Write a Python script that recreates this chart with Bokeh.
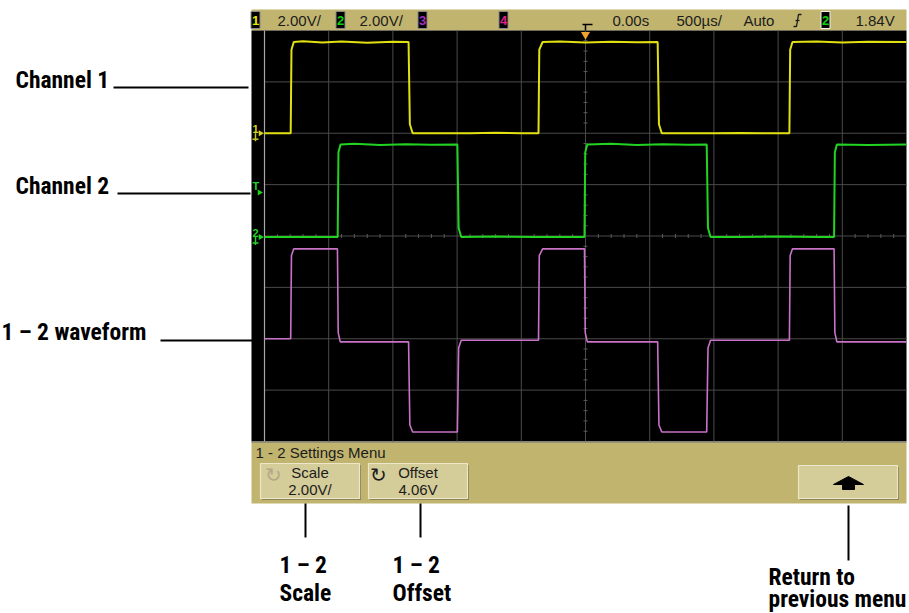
from bokeh.plotting import figure
from bokeh.models import Range1d
from bokeh.embed import file_html
from bokeh.resources import INLINE
from bokeh.core.properties import value

# ---------------- data ----------------
time_per_div_us = 500.0
volts_per_div = 2.0
math_offset_v = 4.06
trigger_level_v = 1.84

# Channel 1 (yellow) trace: time in microseconds, volts
ch1_t = [-2500, -2296, -2290, -2272, -2200, -2050, -1900, -1700, -1500, -1378, -1368, -1346,
         -1100, -900, -700, -500, -366, -360, -334, -200, 0, 200, 400, 562, 572, 594,
         800, 1000, 1200, 1400, 1588, 1594, 1612, 1800, 2000, 2200, 2500]
ch1_v = [0.0, 0.0, 3.25, 3.55, 3.58, 3.53, 3.57, 3.52, 3.56, 3.55, 0.35, 0.0,
         0.0, 0.0, 0.02, 0.0, 0.0, 3.25, 3.55, 3.57, 3.53, 3.56, 3.54, 3.55, 0.35, 0.0,
         0.0, 0.0, 0.01, 0.0, 0.0, 3.25, 3.55, 3.57, 3.53, 3.56, 3.55]

# Channel 2 (green) trace
ch2_t = [-2500, -1930, -1924, -1908, -1800, -1600, -1400, -1200, -998, -988, -968,
         -700, -400, -100, -8, -2, 14, 200, 400, 600, 800, 944, 954, 974,
         1200, 1500, 1800, 1936, 1942, 1958, 2200, 2500]
ch2_v = [0.0, 0.0, 3.3, 3.6, 3.63, 3.58, 3.61, 3.59, 3.6, 0.35, 0.0,
         0.02, 0.0, 0.0, 0.0, 3.3, 3.6, 3.63, 3.58, 3.61, 3.59, 3.6, 0.35, 0.0,
         0.0, 0.02, 0.0, 0.0, 3.3, 3.6, 3.58, 3.6]

# Math 1 - 2 (magenta) trace
math_t = [-2500, -2296, -2290, -2272, -1932, -1926, -1910, -1378, -1368, -1346,
          -998, -988, -968, -366, -360, -334, -8, -2, 14, 562, 572, 594,
          944, 954, 974, 1588, 1594, 1612, 1936, 1942, 1958, 2500]
math_v = [0.06, 0.06, 3.3, 3.56, 3.56, 0.3, -0.06, -0.06, -3.3, -3.57,
          -3.57, -0.3, 0.0, 0.0, 3.3, 3.56, 3.56, 0.3, -0.06, -0.06, -3.3, -3.57,
          -3.57, -0.3, 0.0, 0.0, 3.3, 3.56, 3.56, 0.3, -0.06, -0.06]

# Status bar / menu texts
status_texts = ["2.00V/", "2.00V/", "0.00s", "500µs/", "Auto", "1.84V"]
channel_badges = ["1", "2", "3", "4", "2"]
menu_title = "1 - 2 Settings Menu"
softkey_top = ["Scale", "Offset"]
softkey_bottom = ["2.00V/", "4.06V"]
callouts_left = ["Channel 1", "Channel 2", "1 \u2013 2 waveform"]
callouts_bottom = [["1 \u2013 2", "Scale"], ["1 \u2013 2", "Offset"], ["Return to", "previous menu"]]

# ---------------- layout (pixels of the page) ----------------
W, H = 909, 613          # page size
OX, OY = -8, -8          # page position of the canvas corner (negative margin)
CW, CH = W - OX, H - OY  # canvas size
SCR_L, SCR_R, SCR_T, SCR_B = 251, 906, 30, 441
GRID_L, GRID_R = 264, 906
N_XDIV, N_YDIV = 10, 8
DIV_X = (GRID_R - GRID_L) / N_XDIV
DIV_Y = (SCR_B - SCR_T) / N_YDIV
CX = (GRID_L + GRID_R) / 2
CY = (SCR_T + SCR_B) / 2
CH1_GND_Y = 132.7
CH2_GND_Y = 236.5
px_per_us = DIV_X / time_per_div_us
px_per_v = DIV_Y / volts_per_div
MATH_ZERO_Y = CY + math_offset_v * px_per_v


def vrange(gnd_y):
    return Range1d((gnd_y - H) / px_per_v, (gnd_y - OY) / px_per_v)


x_time = Range1d((OX - CX) / px_per_us, (W - CX) / px_per_us)

p = figure(width=CW, height=CH, x_range=x_time, y_range=vrange(CH1_GND_Y),
           output_backend="svg", toolbar_location=None, min_border=0,
           background_fill_color="white", border_fill_color="white",
           outline_line_color=None, margin=(-8, -8, -8, -8))
p.axis.visible = False
p.grid.visible = False
p.extra_x_ranges = {"px": Range1d(OX, W)}
p.extra_y_ranges = {
    "px": Range1d(H, OY),
    "ch2": vrange(CH2_GND_Y),
    "math": vrange(MATH_ZERO_Y),
}
PX = dict(x_range_name="px", y_range_name="px")

TAN = "#c1b46f"
BTN = "#d4cc99"
SCOPE_FONT = value("Liberation Sans")
LABEL_FONT = value("Roboto Condensed, Roboto")

# panels
p.quad(left=[SCR_L], right=[SCR_R], top=[9], bottom=[SCR_T], fill_color=TAN, line_color=None, **PX)
p.quad(left=[SCR_L], right=[SCR_R], top=[SCR_T], bottom=[SCR_B], fill_color="black", line_color=None, **PX)
p.quad(left=[SCR_L], right=[SCR_R], top=[SCR_B], bottom=[503], fill_color=TAN, line_color=None, **PX)
p.segment(x0=[SCR_L], x1=[SCR_R], y0=[SCR_B + 0.5], y1=[SCR_B + 0.5], line_color="#6c6c7c", line_width=1, **PX)

# graticule
gx = [GRID_L + i * DIV_X for i in range(1, N_XDIV)]
p.segment(x0=gx, x1=gx, y0=[SCR_T] * len(gx), y1=[SCR_B] * len(gx), line_color="#4a4a4a", line_width=1, **PX)
gy = [SCR_T + j * DIV_Y for j in range(1, N_YDIV)]
p.segment(x0=[GRID_L] * len(gy), x1=[GRID_R] * len(gy), y0=gy, y1=gy, line_color="#4a4a4a", line_width=1, **PX)
p.segment(x0=[GRID_L], x1=[GRID_L], y0=[SCR_T], y1=[SCR_B], line_color="#a8a8a8", line_width=1.2, **PX)
# minor ticks on centre lines
tx = [GRID_L + k * DIV_X / 5 for k in range(1, N_XDIV * 5) if k % 5]
p.segment(x0=tx, x1=tx, y0=[CY - 2] * len(tx), y1=[CY + 2] * len(tx), line_color="#5a5a5a", **PX)
ty = [SCR_T + k * DIV_Y / 5 for k in range(1, N_YDIV * 5) if k % 5]
p.segment(x0=[CX - 2] * len(ty), x1=[CX + 2] * len(ty), y0=ty, y1=ty, line_color="#5a5a5a", **PX)

# traces
p.line(ch1_t, ch1_v, line_color="#e0e012", line_width=2)
p.line(ch2_t, ch2_v, line_color="#22d422", line_width=2, y_range_name="ch2")
p.line(math_t, math_v, line_color="#c872c8", line_width=1.6, y_range_name="math")

# left-side markers
p.text(x=[252, 252], y=[CH1_GND_Y, CH2_GND_Y], text=["1", "2"], text_color=["#d6d61c", "#22d422"],
       text_font=SCOPE_FONT, text_font_size="11px", text_font_style="bold", text_baseline="bottom", **PX)
p.text(x=[252], y=[191], text=["T"], text_color="#22d422", text_font=SCOPE_FONT,
       text_font_size="11px", text_font_style="bold", text_baseline="bottom", **PX)
p.scatter(x=[260, 260, 259], y=[CH1_GND_Y, CH2_GND_Y, 192], marker="triangle", angle=-1.5708,
          size=6, fill_color=["#d6d61c", "#22d422", "#22d422"], line_color=None, **PX)
p.segment(x0=[255, 255], x1=[255, 255], y0=[CH1_GND_Y, CH2_GND_Y], y1=[CH1_GND_Y + 8, CH2_GND_Y + 8],
          line_color=["#c8c81c", "#22d422"], line_width=1.5, **PX)
p.segment(x0=[252, 252], x1=[258, 258], y0=[CH1_GND_Y + 6, CH2_GND_Y + 6], y1=[CH1_GND_Y + 6, CH2_GND_Y + 6],
          line_color=["#c8c81c", "#22d422"], line_width=1.5, **PX)

# trigger position marker
p.scatter(x=[0], y=[SCR_T + 4], marker="inverted_triangle", size=9, fill_color="#f0a030",
          line_color=None, y_range_name="px")
p.multi_line(xs=[[582, 592], [585, 585]], ys=[[24, 24], [24, 30]], line_color="black", line_width=1.5, **PX)

# status bar
bx = [255, 340, 422, 503, 825]
bcol = ["#e8e800", "#10d010", "#a030c8", "#e0208a", "#10d010"]
p.quad(left=[b - 4.5 for b in bx], right=[b + 4.5 for b in bx], top=[11] * 5, bottom=[28] * 5,
       fill_color="black", line_color=["#888", "#888", "#888", "#888", "#f0f0f0"], line_width=1, **PX)
p.text(x=bx, y=[20] * 5, text=channel_badges, text_color=bcol, text_font=SCOPE_FONT,
       text_font_size="13px", text_font_style="bold", text_align="center", text_baseline="middle", **PX)
p.text(x=[277, 359, 612, 676, 743, 855], y=[20] * 6, text=status_texts, text_color="#1c1c1c",
       text_font=SCOPE_FONT, text_font_size="15px", text_baseline="middle", **PX)
p.multi_line(xs=[[793, 796, 798, 801], [795, 799]], ys=[[26, 26, 14, 14], [20, 20]],
             line_color="#1c1c1c", line_width=1.3, **PX)

# menu
p.text(x=[255], y=[452], text=[menu_title], text_color="#1c1c1c", text_font=SCOPE_FONT,
       text_font_size="15px", text_baseline="middle", **PX)
btn_l = [260, 368, 798]
btn_r = [359, 467, 897]
btn_t = [463, 463, 465]
p.quad(left=[l + 1.5 for l in btn_l], right=[r + 1.5 for r in btn_r], top=[t + 1.5 for t in btn_t],
       bottom=[499.5] * 3, fill_color="#8c8256", line_color=None, **PX)
p.quad(left=btn_l, right=btn_r, top=btn_t, bottom=[498] * 3, fill_color=BTN,
       line_color="#ece7c8", line_width=1.2, **PX)
bc = [(l + r) / 2 for l, r in zip(btn_l[:2], btn_r[:2])]
p.text(x=bc, y=[472, 472], text=softkey_top, text_color="#1c1c1c", text_font=SCOPE_FONT,
       text_font_size="15px", text_align="center", text_baseline="middle", **PX)
p.text(x=bc, y=[489, 489], text=softkey_bottom, text_color="#1c1c1c", text_font=SCOPE_FONT,
       text_font_size="15px", text_align="center", text_baseline="middle", **PX)
p.text(x=[273, 378], y=[474, 474], text=["\u21bb", "\u21bb"], text_color=["#b0a98a", "#1c1c1c"],
       text_font=value("DejaVu Sans"), text_font_size="20px", text_align="center", text_baseline="middle", **PX)
p.patch(x=[848, 863, 854, 854, 842, 842, 833], y=[476, 484, 484, 489, 489, 484, 484],
        fill_color="black", line_color="black", **PX)

# callouts
p.segment(x0=[113, 117, 160], x1=[248, 250, 262], y0=[87, 193, 340], y1=[87, 193, 340],
          line_color="black", line_width=2, **PX)
p.segment(x0=[305, 420, 848], x1=[305, 420, 848], y0=[503, 503, 505], y1=[537, 537, 560],
          line_color="black", line_width=2, **PX)
p.text(x=[15, 15, 1], y=[79, 185, 331], text=callouts_left, text_color="black", text_font=LABEL_FONT,
       text_font_size="23.5px", text_font_style="bold", text_baseline="middle", **PX)
bl_x = [279, 279, 392, 392, 768, 768]
bl_y = [564, 592, 564, 592, 576, 598]
bl_t = [callouts_bottom[0][0], callouts_bottom[0][1], callouts_bottom[1][0], callouts_bottom[1][1],
        callouts_bottom[2][0], callouts_bottom[2][1]]
p.text(x=bl_x, y=bl_y, text=bl_t, text_color="black", text_font=LABEL_FONT,
       text_font_size="23.5px", text_font_style="bold", text_baseline="middle", **PX)

open("out.html", "w").write(file_html(p, INLINE))
